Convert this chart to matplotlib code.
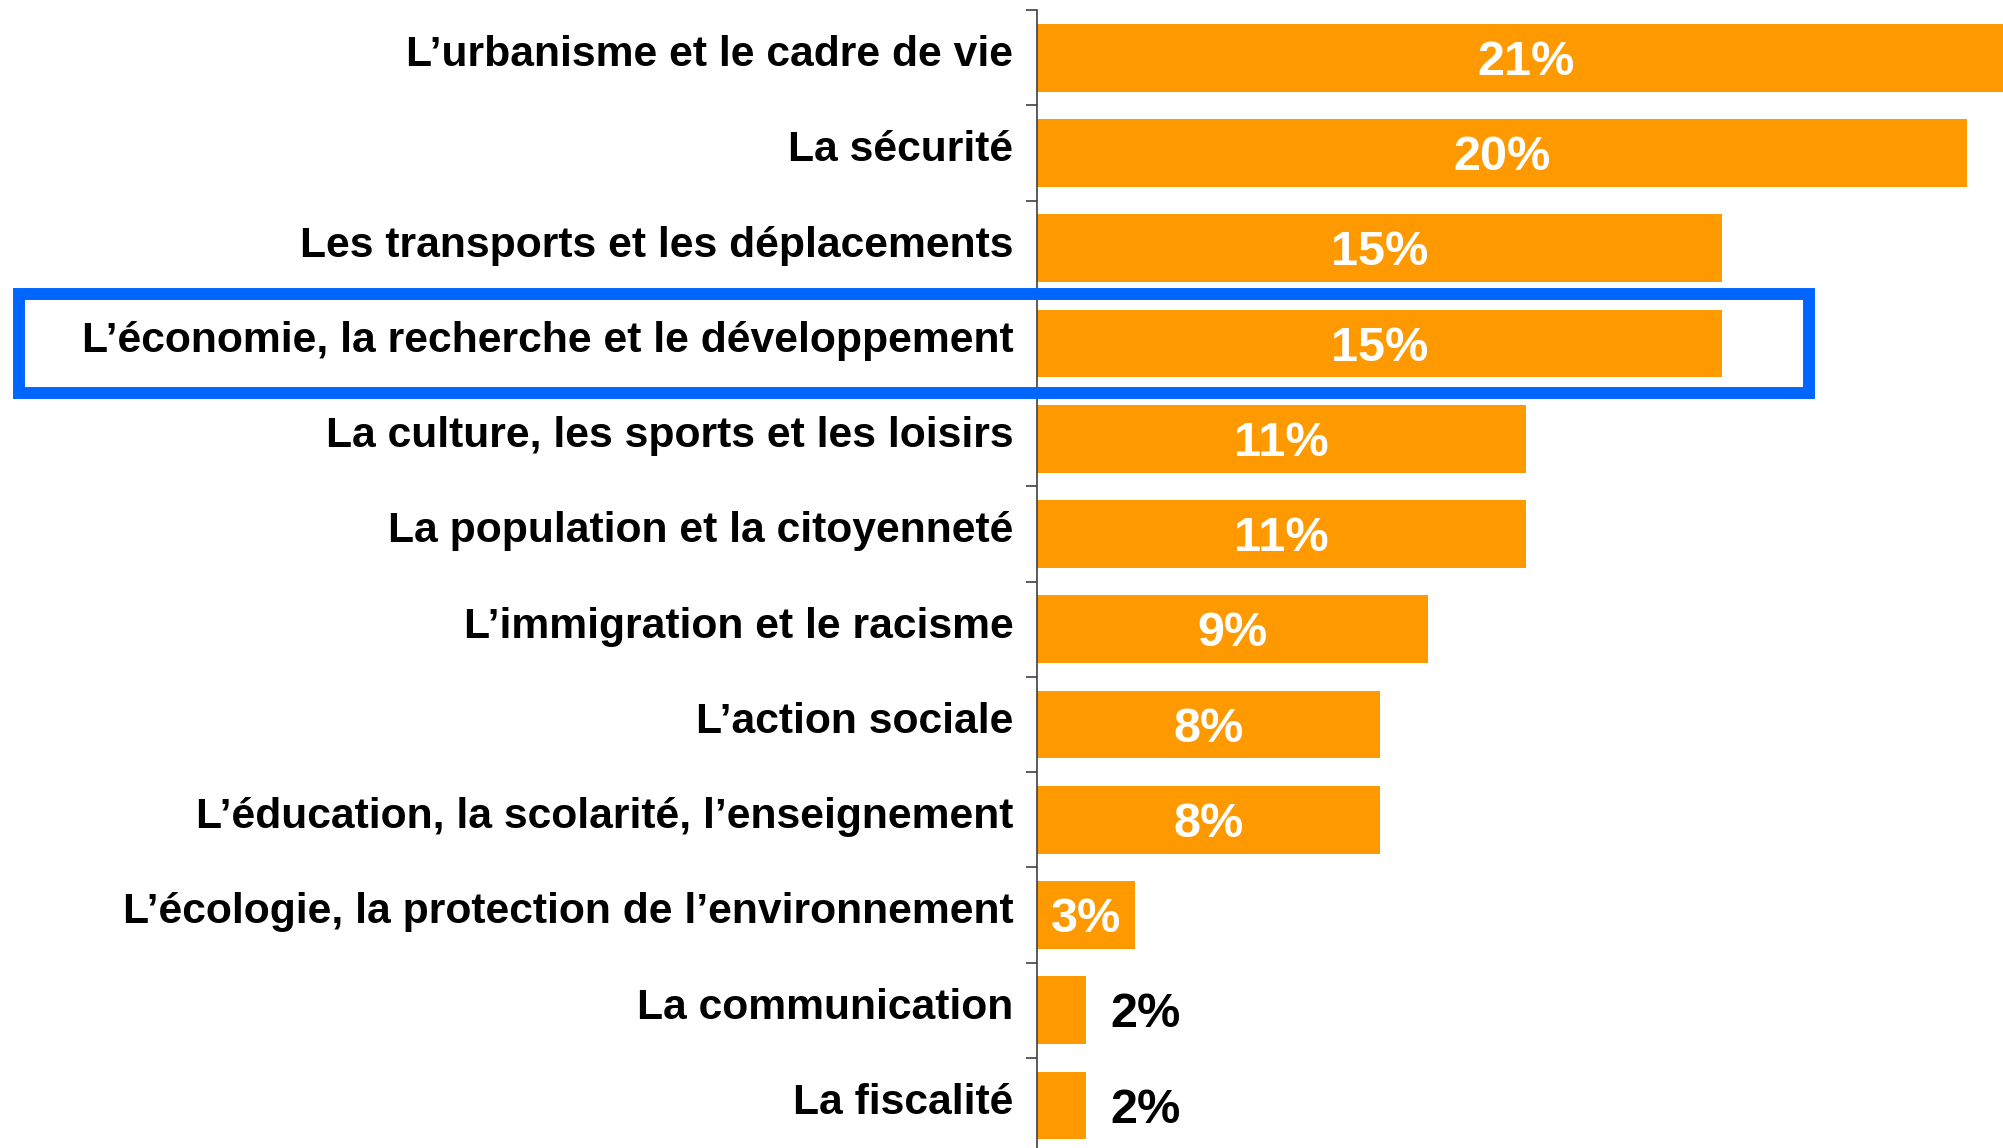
import numpy as np
import matplotlib.pyplot as plt
from matplotlib.patches import Rectangle
from matplotlib.transforms import blended_transform_factory, ScaledTranslation

plt.rcParams['font.family'] = ['Liberation Sans', 'DejaVu Sans']

categories = [
    "L\u2019urbanisme et le cadre de vie",
    "La s\u00e9curit\u00e9",
    "Les transports et les d\u00e9placements",
    "L\u2019\u00e9conomie, la recherche et le d\u00e9veloppement",
    "La culture, les sports et les loisirs",
    "La population et la citoyennet\u00e9",
    "L\u2019immigration et le racisme",
    "L\u2019action sociale",
    "L\u2019\u00e9ducation, la scolarit\u00e9, l\u2019enseignement",
    "L\u2019\u00e9cologie, la protection de l\u2019environnement",
    "La communication",
    "La fiscalit\u00e9",
]
values = [21, 20, 15, 15, 11, 11, 9, 8, 8, 3, 2, 2]
highlight = 3  # row framed in blue

orange = '#FF9900'
blue = '#0066FF'

fig = plt.figure(figsize=(20.03, 11.48), dpi=100)
ax = fig.add_axes([0.5177, -0.0044, 0.4823, 0.9956])

y = np.arange(len(categories))
ax.barh(y, values, height=0.71, color=orange, zorder=2)

xmin, xmax = 1, 20.74
ax.set_xlim(xmin, xmax)
ax.set_ylim(len(categories) - 0.5, -0.5)

# value labels
for yi, v in zip(y, values):
    if v > 2:
        ax.text((xmin + v) / 2, yi + 0.05, f"{v}%", ha='center', va='center',
                color='white', fontsize=35, fontweight='bold')
    else:
        ax.text(v + 0.5, yi + 0.05, f"{v}%", ha='left', va='center', color='black',
                fontsize=35, fontweight='bold')

# axis styling
for s in ['top', 'right', 'bottom']:
    ax.spines[s].set_visible(False)
ax.spines['left'].set_color('#404040')
ax.spines['left'].set_linewidth(1.2)
ax.set_xticks([])
ax.set_yticks(y)
ax.set_yticklabels(categories, fontsize=30.7, fontweight='bold')
ax.tick_params(axis='y', which='major', length=0, pad=17)
shift = ScaledTranslation(0, 0.07, fig.dpi_scale_trans)
for lab in ax.get_yticklabels():
    lab.set_transform(lab.get_transform() + shift)
ax.set_yticks(np.arange(-0.5, len(categories) + 0.5, 1), minor=True)
ax.tick_params(axis='y', which='minor', length=8, width=1.2, color='#404040', direction='out')

# blue frame around highlighted row
trans = blended_transform_factory(fig.transFigure, ax.transData)
rect = Rectangle((0.0095, highlight - 0.52), 0.8936, 1.04, transform=trans,
                 fill=False, edgecolor=blue, linewidth=8.6, clip_on=False, zorder=5)
fig.add_artist(rect)

fig.savefig('out.png', dpi=100)
